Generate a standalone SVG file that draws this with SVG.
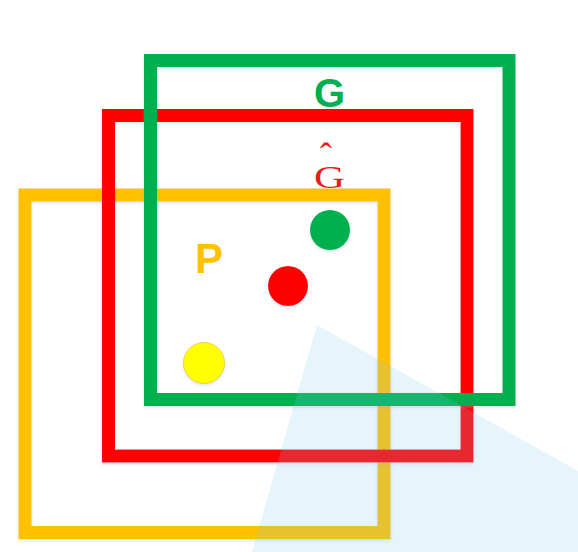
<svg xmlns="http://www.w3.org/2000/svg" width="578" height="552" viewBox="0 0 578 552">
  <defs>
    <filter id="sh" x="-10%" y="-10%" width="120%" height="120%">
      <feDropShadow dx="0" dy="1.5" stdDeviation="1.5" flood-color="#8fb4d0" flood-opacity="0.35"/>
    </filter>
  </defs>
  <style>
    .box { fill: none; stroke-width: 13; filter: url(#sh); }
    .dot { filter: url(#sh); }
    .lbl { font-family: "Liberation Sans", Arial, sans-serif; font-weight: bold; }
    .ser { font-family: "Liberation Serif", "Times New Roman", serif; }
  </style>
  <rect width="578" height="552" fill="#ffffff"/>
  <g id="box-P">
    <rect class="box" x="25" y="195" width="359" height="337.5" stroke="#FFC000"/>
  </g>
  <g id="box-Ghat">
    <rect class="box" x="108.5" y="115.5" width="358.5" height="340.5" stroke="#FF0000"/>
  </g>
  <g id="box-G">
    <rect class="box" x="150.5" y="60.5" width="358.5" height="339" stroke="#00B050"/>
  </g>
  <g id="label-G">
    <text class="lbl" x="329.5" y="107" font-size="40" fill="#00B050" text-anchor="middle">G</text>
  </g>
  <g id="label-Ghat">
    <text class="ser" fill="#E81C1C"><tspan x="320" y="168" font-size="36">ˆ</tspan><tspan x="314" y="188" font-size="32" textLength="31" lengthAdjust="spacingAndGlyphs">G</tspan></text>
  </g>
  <g id="label-P">
    <text class="lbl" x="195" y="273" font-size="42" fill="#FFC000">P</text>
  </g>
  <g id="dot-green">
    <circle class="dot" cx="330" cy="230" r="20" fill="#00B050"/>
  </g>
  <g id="dot-red">
    <circle class="dot" cx="288" cy="286" r="20" fill="#FF0000"/>
  </g>
  <g id="dot-yellow">
    <circle class="dot" cx="204" cy="363" r="20.5" fill="#FFFF00" stroke="#F2D04A" stroke-width="1"/>
  </g>
  <g id="overlay">
    <polygon points="317,325 252,552 578,552 578,471" fill="#82C8F0" fill-opacity="0.2"/>
  </g>
</svg>
